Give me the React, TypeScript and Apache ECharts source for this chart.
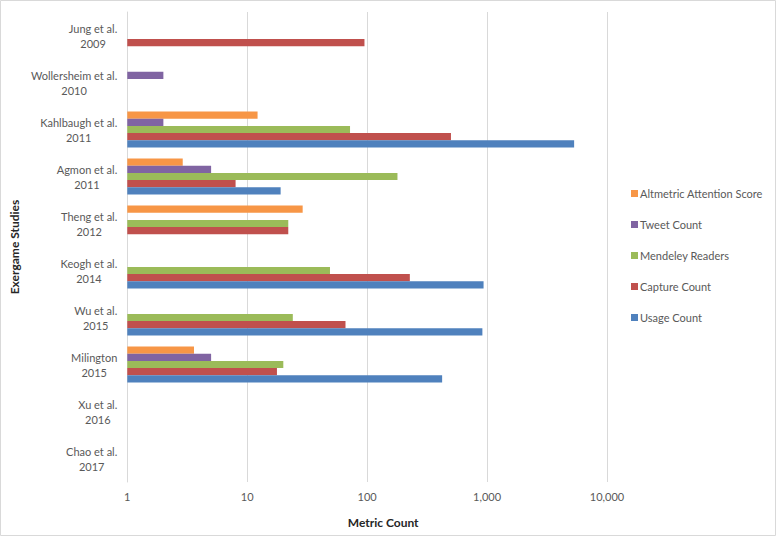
import React, { useEffect, useRef } from "react";
import * as echarts from "echarts";

const studies = [
  "Jung et al.|2009",
  "Wollersheim et al.|2010",
  "Kahlbaugh et al.|2011",
  "Agmon et al.|2011",
  "Theng et al.|2012",
  "Keogh et al.|2014",
  "Wu et al.|2015",
  "Milington|2015",
  "Xu et al.|2016",
  "Chao et al.|2017",
];

const seriesNames = [
  "Altmetric Attention Score",
  "Tweet Count",
  "Mendeley Readers",
  "Capture Count",
  "Usage Count",
];

const altmetricScore = [null, null, 12.2, 2.9, 29, null, null, 3.6, null, null];
const tweetCount = [null, 2, 2, 5, null, null, null, 5, null, null];
const mendeleyReaders = [null, null, 72, 179, 22, 49, 24, 20, null, null];
const captureCount = [95, null, 500, 8, 22, 227, 66, 17.7, null, null];
const usageCount = [null, null, 5320, 19, null, 935, 914, 422, null, null];

const xTicks = [1, 10, 100, 1000, 10000];

const colors = ["#F79646", "#8064A2", "#9BBB59", "#C0504D", "#4F81BD"];

const FONT = "Lato, 'Open Sans', sans-serif";

export default function App() {
  const ref = useRef<HTMLDivElement>(null);

  useEffect(() => {
    document.body.style.margin = "0";
    if (!ref.current) return;
    const chart = echarts.init(ref.current, null, { renderer: "svg" });
    const values = [altmetricScore, tweetCount, mendeleyReaders, captureCount, usageCount];
    chart.setOption({
      animation: false,
      backgroundColor: "#ffffff",
      textStyle: { fontFamily: FONT },
      graphic: [
        {
          type: "rect",
          shape: { x: 0.5, y: 0.5, width: 775, height: 535 },
          style: { fill: "none", stroke: "#d9d9d9", lineWidth: 1 },
          silent: true,
        },
      ],
      legend: {
        orient: "vertical",
        left: 626,
        top: 183,
        itemWidth: 7,
        itemHeight: 7,
        itemGap: 20,
        icon: "rect",
        data: seriesNames,
        textStyle: { fontFamily: FONT, fontSize: 11, color: "#595959", padding: [0, 0, 0, -3] },
      },
      grid: { left: 125, right: 169, top: 12, bottom: 54, containLabel: false },
      xAxis: {
        type: "log",
        logBase: 10,
        min: 1,
        max: 10000,
        name: "Metric Count",
        nameLocation: "middle",
        nameGap: 34,
        nameTextStyle: {
          fontFamily: FONT,
          fontSize: 12,
          fontWeight: "bold",
          color: "#262626",
          padding: [0, 0, 0, 32],
        },
        axisLine: { show: false },
        axisTick: { show: false },
        splitLine: { show: true, lineStyle: { color: "#d9d9d9", width: 1 } },
        axisLabel: {
          margin: 9,
          fontSize: 11,
          color: "#595959",
          fontFamily: FONT,
          formatter: (v: number) => {
            const t = xTicks.find((k) => Math.abs(k - v) / k < 1e-6);
            return t === undefined ? "" : t.toLocaleString("en-US");
          },
        },
      },
      yAxis: {
        type: "category",
        inverse: true,
        data: studies,
        name: "Exergame Studies",
        nameLocation: "middle",
        nameGap: 102,
        nameRotate: 90,
        nameTextStyle: {
          fontFamily: FONT,
          fontSize: 12,
          fontWeight: "bold",
          color: "#262626",
        },
        axisLine: { show: true, lineStyle: { color: "#d9d9d9", width: 1 } },
        axisTick: { show: false },
        splitLine: { show: false },
        axisLabel: {
          margin: 10,
          align: "right",
          fontFamily: FONT,
          formatter: (v: string) => {
            const [a, b] = v.split("|");
            return `{c|${a}}\n{c|${b}}`;
          },
          rich: {
            c: {
              align: "center",
              fontSize: 11,
              lineHeight: 15,
              color: "#595959",
              fontFamily: FONT,
            },
          },
        },
      },
      series: seriesNames.map((name, i) => ({
        name,
        type: "bar",
        data: values[i].map((v) => (v === null ? "-" : v)),
        barWidth: 7.2,
        barGap: "0%",
        itemStyle: { color: colors[i] },
      })),
    });
    return () => chart.dispose();
  }, []);

  return <div ref={ref} style={{ width: 776, height: 536 }} />;
}
